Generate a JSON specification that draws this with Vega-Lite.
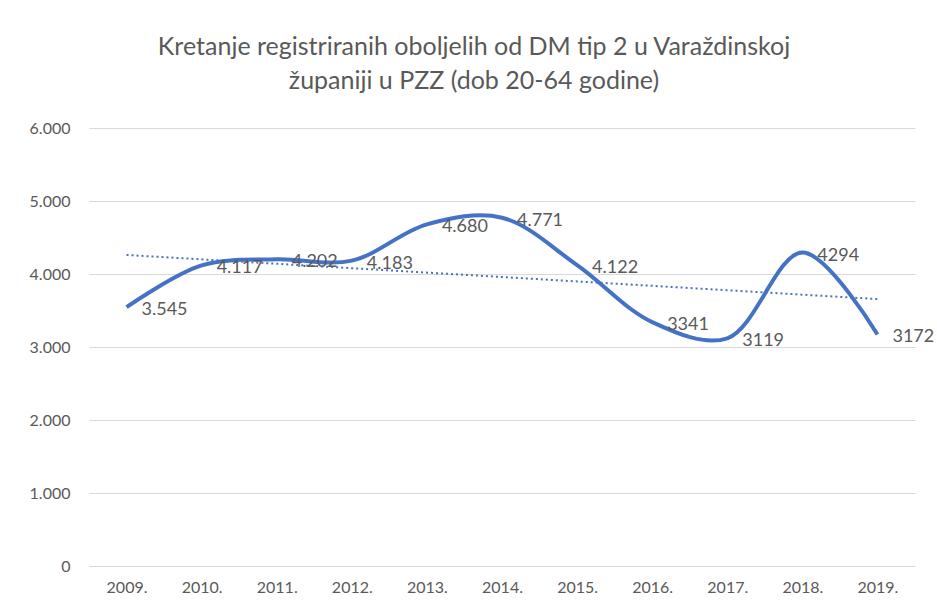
{
  "$schema": "https://vega.github.io/schema/vega-lite/v6.json",
  "width": 826,
  "height": 438,
  "autosize": "none",
  "padding": {"left": 89, "top": 128, "right": 22, "bottom": 50},
  "background": "white",
  "config": {"font": "Lato", "view": {"stroke": null}},
  "title": {
    "text": ["Kretanje registriranih oboljelih od DM tip 2 u Varaždinskoj", "županiji u PZZ (dob 20-64 godine)"],
    "fontSize": 25,
    "font": "Lato",
    "fontWeight": "normal",
    "color": "#595959",
    "lineHeight": 34,
    "anchor": "middle",
    "frame": "group",
    "dx": -28,
    "offset": 26
  },
  "data": {
    "values": [
      {"year": 2009, "value": 3545, "label": "3.545"},
      {"year": 2010, "value": 4117, "label": "4.117"},
      {"year": 2011, "value": 4202, "label": "4.202"},
      {"year": 2012, "value": 4183, "label": "4.183"},
      {"year": 2013, "value": 4680, "label": "4.680"},
      {"year": 2014, "value": 4771, "label": "4.771"},
      {"year": 2015, "value": 4122, "label": "4.122"},
      {"year": 2016, "value": 3341, "label": "3341"},
      {"year": 2017, "value": 3119, "label": "3119"},
      {"year": 2018, "value": 4294, "label": "4294"},
      {"year": 2019, "value": 3172, "label": "3172"}
    ]
  },
  "encoding": {
    "x": {
      "field": "year",
      "type": "quantitative",
      "scale": {"domain": [2008.5, 2019.5], "nice": false, "zero": false},
      "axis": {
        "title": null,
        "values": [2009, 2010, 2011, 2012, 2013, 2014, 2015, 2016, 2017, 2018, 2019],
        "labelExpr": "datum.value + '.'",
        "grid": false,
        "ticks": false,
        "domain": false,
        "labelPadding": 13,
        "labelFontSize": 16,
        "labelColor": "#595959",
        "labelFlush": false
      }
    }
  },
  "layer": [
    {
      "mark": {"type": "line", "interpolate": "catmull-rom", "color": "#4472C4", "strokeWidth": 4},
      "encoding": {
        "y": {
          "field": "value",
          "type": "quantitative",
          "scale": {"domain": [0, 6000], "nice": false},
          "axis": {
            "title": null,
            "values": [0, 1000, 2000, 3000, 4000, 5000, 6000],
            "labelExpr": "replace(format(datum.value, ','), ',', '.')",
            "grid": true,
            "gridColor": "#d9d9d9",
            "gridWidth": 1,
            "domain": false,
            "ticks": false,
            "labelPadding": 19,
            "labelFontSize": 16,
            "labelColor": "#595959"
          }
        }
      }
    },
    {
      "transform": [{"regression": "value", "on": "year"}],
      "mark": {"type": "line", "color": "#4472C4", "strokeWidth": 2, "strokeDash": [2, 3]},
      "encoding": {"y": {"field": "value", "type": "quantitative"}}
    },
    {
      "mark": {"type": "text", "align": "left", "baseline": "middle", "dx": 15, "dy": 3, "fontSize": 18, "color": "#595959"},
      "encoding": {
        "y": {"field": "value", "type": "quantitative"},
        "text": {"field": "label"}
      }
    }
  ]
}
